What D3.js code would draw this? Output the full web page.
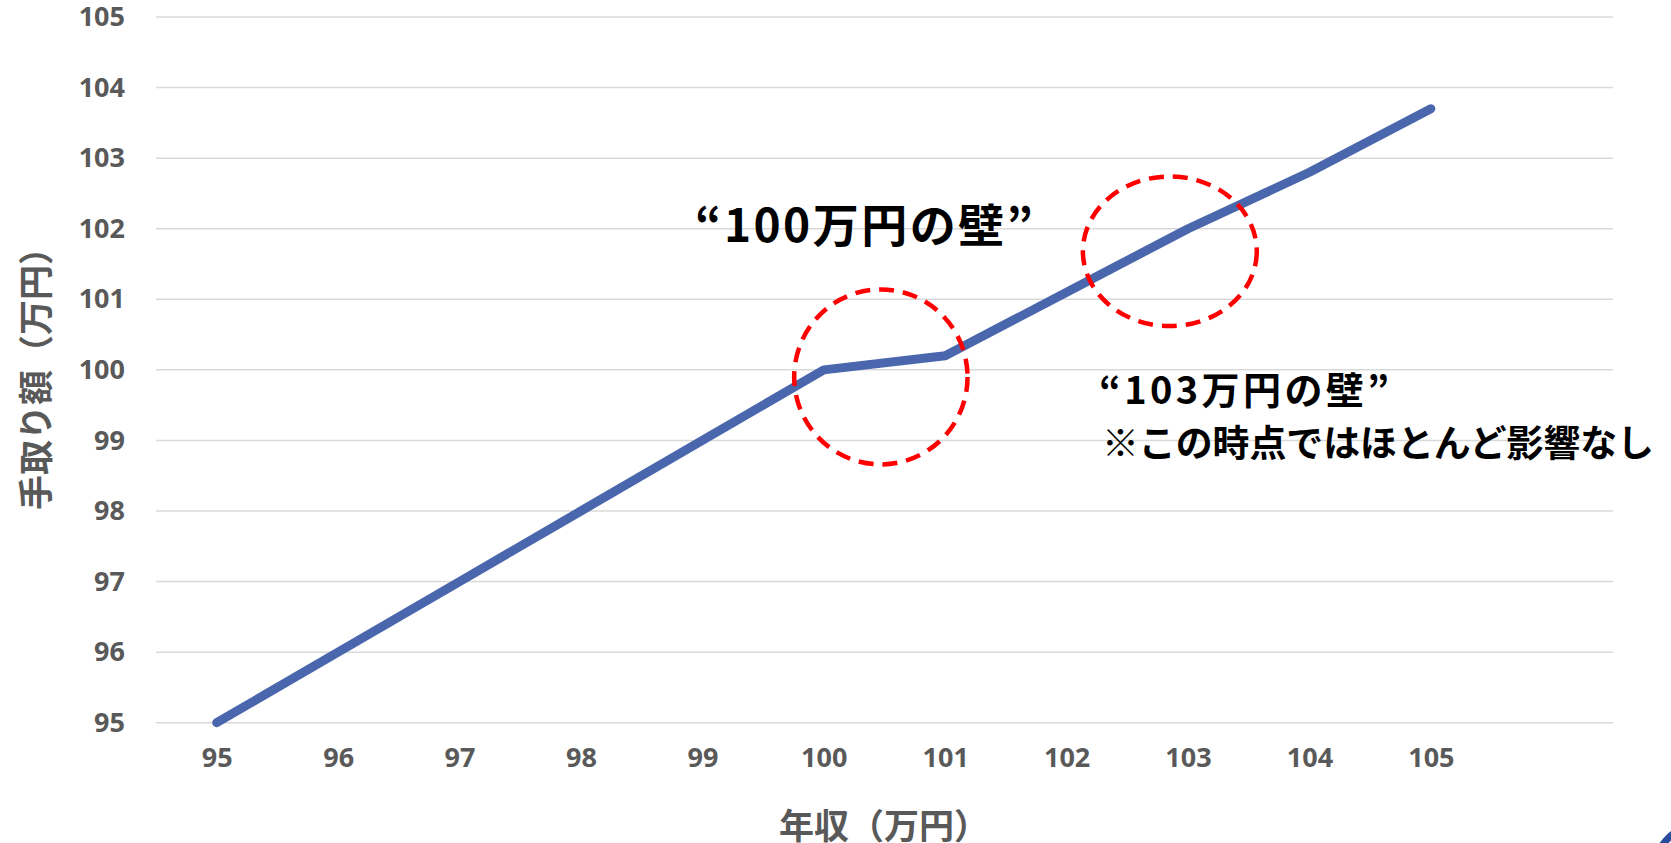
<!DOCTYPE html>
<html>
<head>
<meta charset="utf-8">
<script src="https://cdn.jsdelivr.net/npm/d3@7"></script>
<style>
  body { margin: 0; background: #fff; }
  svg { display: block; }
</style>
</head>
<body>
<script>
// data
const incomes = [95, 96, 97, 98, 99, 100, 101, 102, 103, 104, 105];
const takeHome = [95, 96, 97, 98, 99, 100, 100.2, 101.1, 102, 102.8, 103.7];
const yTicks = [95, 96, 97, 98, 99, 100, 101, 102, 103, 104, 105];
const xLabel = "年収（万円）";
const yLabel = "手取り額（万円）";

// the two "wall" highlights, in data units
const walls = [
    {x: 100.47, y: 99.9, rx: 0.714, ry: 1.24},
    {x: 102.85, y: 101.68, rx: 0.716, ry: 1.06}
];

function main(){
    const W = 1671, H = 843;
    const jp = "'Noto Sans CJK JP', 'Noto Sans', sans-serif";
    const num = "'Noto Sans', 'Open Sans', sans-serif";

    const svg = d3.select("body").append("svg")
        .attr("width", W)
        .attr("height", H);

    const xScale = d3.scaleLinear().domain([94.5, 106.5]).range([156, 1613]);
    const yScale = d3.scaleLinear().domain([95, 105]).range([722.7, 17]);

    //gridlines
    svg.append("g").selectAll("line")
        .data(yTicks)
        .join("line")
        .attr("x1", xScale.range()[0])
        .attr("x2", xScale.range()[1])
        .attr("y1", d => yScale(d))
        .attr("y2", d => yScale(d))
        .attr("stroke", "#d9d9d9")
        .attr("stroke-width", 1.5);

    //y axis labels
    const yAxis = svg.append("g")
        .attr("transform", "translate(136,0)")
        .call(d3.axisLeft(yScale).tickValues(yTicks).tickSize(0).tickPadding(11));
    yAxis.select(".domain").remove();
    yAxis.selectAll("text")
        .attr("font-family", num)
        .attr("font-weight", "bold")
        .attr("font-size", "27px")
        .attr("fill", "#595959");

    //x axis labels
    const xAxis = svg.append("g")
        .attr("transform", "translate(0,740)")
        .call(d3.axisBottom(xScale).tickValues(incomes).tickSize(0).tickPadding(8));
    xAxis.select(".domain").remove();
    xAxis.selectAll("text")
        .attr("font-family", num)
        .attr("font-weight", "bold")
        .attr("font-size", "27px")
        .attr("fill", "#595959");

    //axis titles
    svg.append("text")
        .attr("x", 884)
        .attr("y", 823)
        .attr("text-anchor", "middle")
        .attr("dominant-baseline", "central")
        .attr("font-family", jp)
        .attr("font-weight", "bold")
        .attr("font-size", "35px")
        .attr("fill", "#595959")
        .text(xLabel);

    svg.append("text")
        .attr("transform", "translate(33,370) rotate(-90)")
        .attr("text-anchor", "middle")
        .attr("dominant-baseline", "central")
        .attr("font-family", jp)
        .attr("font-weight", "bold")
        .attr("font-size", "35px")
        .attr("fill", "#595959")
        .text(yLabel);

    //the line
    const line = d3.line()
        .x((d, i) => xScale(incomes[i]))
        .y(d => yScale(d));
    svg.append("path")
        .datum(takeHome)
        .attr("d", line)
        .attr("fill", "none")
        .attr("stroke", "#4a67ad")
        .attr("stroke-width", 9)
        .attr("stroke-linecap", "round")
        .attr("stroke-linejoin", "round");

    //dashed circles
    svg.append("g").selectAll("ellipse")
        .data(walls)
        .join("ellipse")
        .attr("cx", d => xScale(d.x))
        .attr("cy", d => yScale(d.y))
        .attr("rx", d => xScale(d.x + d.rx) - xScale(d.x))
        .attr("ry", d => yScale(d.y) - yScale(d.y + d.ry))
        .attr("fill", "none")
        .attr("stroke", "#ff0000")
        .attr("stroke-width", 4.5)
        .attr("stroke-dasharray", "15 9");

    //annotations
    svg.append("text")
        .attr("x", 695)
        .attr("y", 242)
        .attr("font-family", jp)
        .attr("font-weight", "bold")
        .attr("font-size", "46px")
        .attr("fill", "#000")
        .attr("textLength", 338)
        .attr("lengthAdjust", "spacing")
        .text("“100万円の壁”");

    svg.append("text")
        .attr("x", 1099)
        .attr("y", 404)
        .attr("font-family", jp)
        .attr("font-weight", "bold")
        .attr("font-size", "38px")
        .attr("fill", "#000")
        .attr("textLength", 290)
        .attr("lengthAdjust", "spacing")
        .text("“103万円の壁”");

    svg.append("text")
        .attr("x", 1102)
        .attr("y", 457)
        .attr("font-family", jp)
        .attr("font-weight", "bold")
        .attr("font-size", "37px")
        .attr("fill", "#000")
        .attr("textLength", 552)
        .attr("lengthAdjust", "spacingAndGlyphs")
        .text("※この時点ではほとんど影響なし");

    //bit of a logo peeking in at the corner
    svg.append("circle")
        .attr("cx", 1705)
        .attr("cy", 875)
        .attr("r", 52)
        .attr("fill", "none")
        .attr("stroke", "#2a4a9b")
        .attr("stroke-width", 7);
}
main();
</script>
</body>
</html>
